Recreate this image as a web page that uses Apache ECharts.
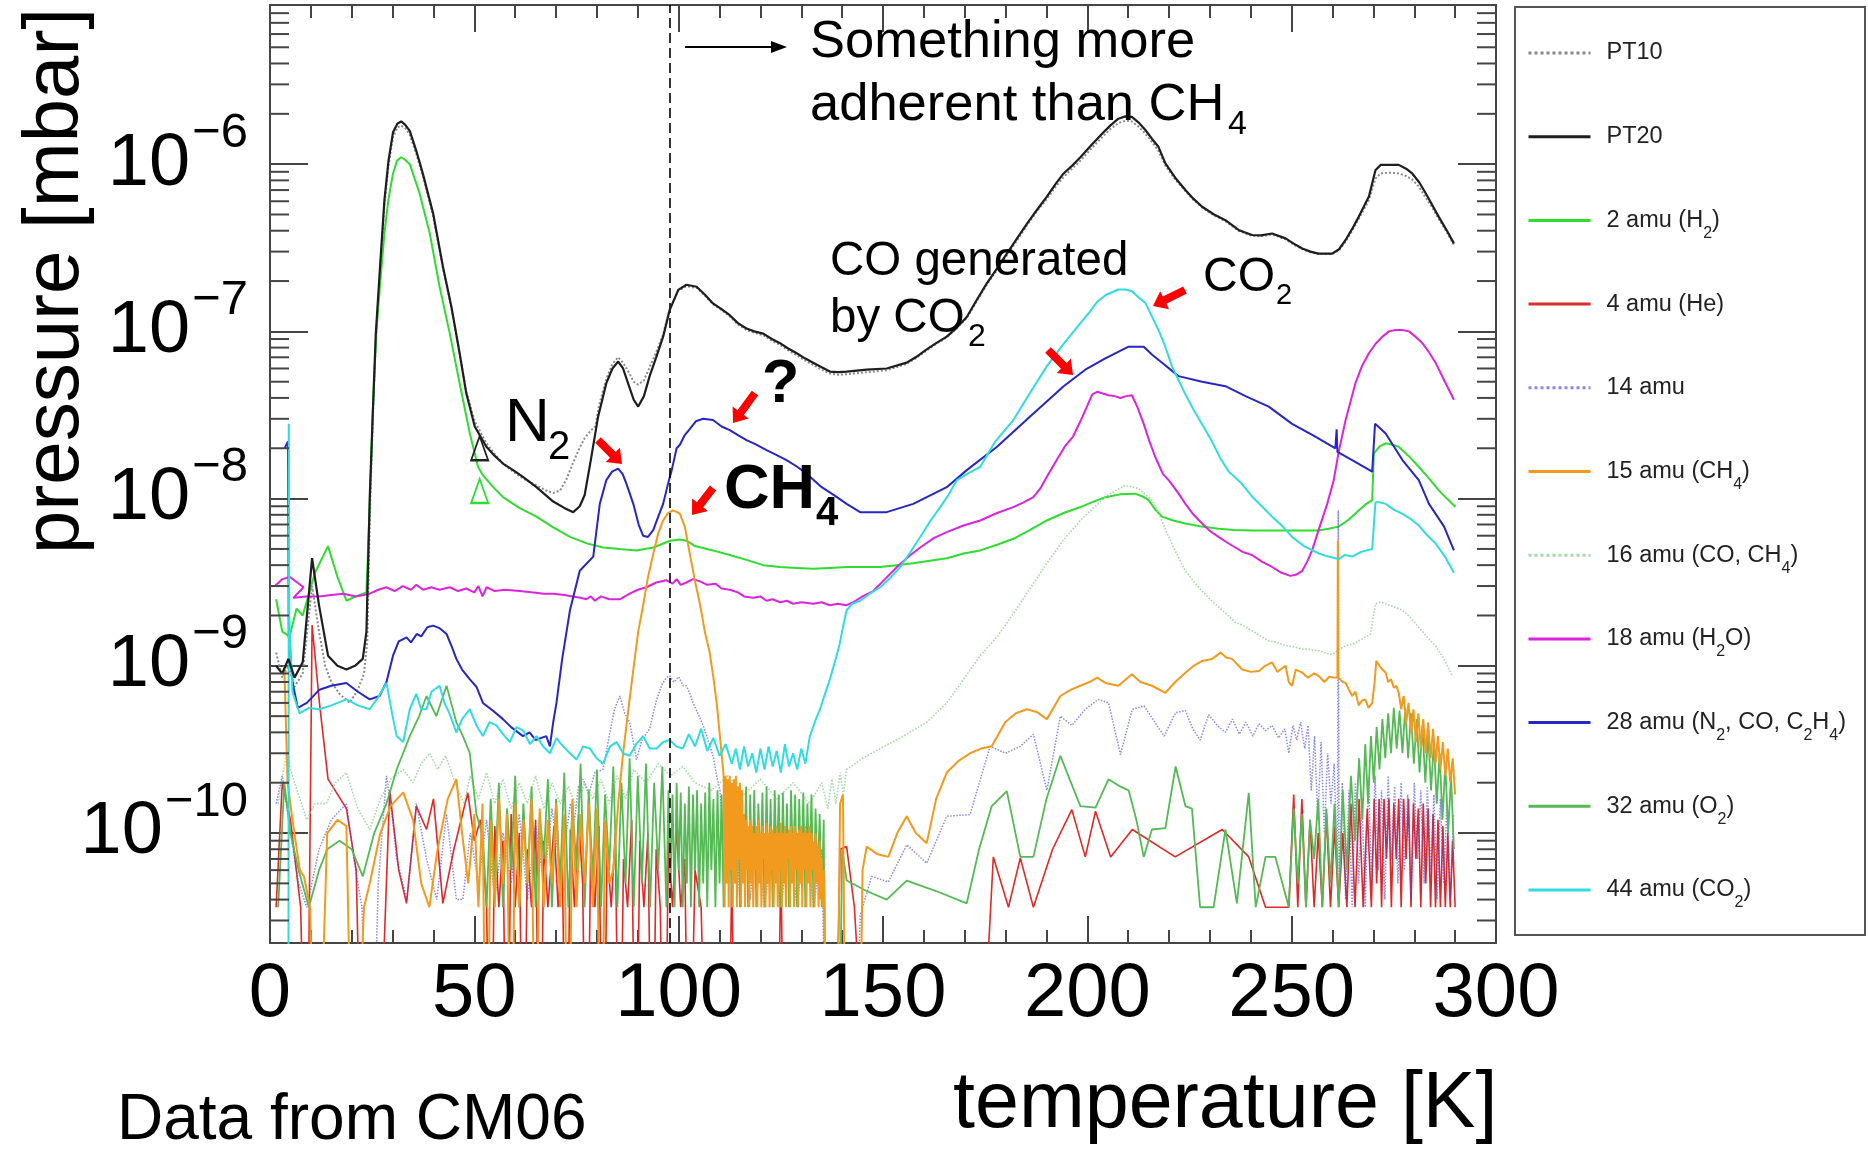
<!DOCTYPE html>
<html>
<head>
<meta charset="utf-8">
<title>Residual gas pressure vs temperature (CM06)</title>
<script src="https://cdn.jsdelivr.net/npm/echarts@6.0.0/dist/echarts.min.js"></script>
<style>
  html, body { margin: 0; padding: 0; background: #fff; }
  #chart { width: 1868px; height: 1151px; }
</style>
</head>
<body>
<div id="chart"></div>
<script>
// ---------------------------------------------------------------------------
// Data: [temperature K, pressure mbar]. 1e-12 marks readings below the scale.
// ---------------------------------------------------------------------------
const pt10 = [[1.5,1.2e-9],[3,8.5e-10],[4.5,1.0e-9],[6,7.5e-10],[8,9e-10],[10.3,3.0e-9],[12,1.6e-9],[13.5,1.0e-9],[15,8e-10],[17,6.8e-10],[19.5,6.0e-10],[21.5,7.2e-10],[23,9e-10],[23.8,1.4e-9],[24.5,9e-9],[25.2,3.2e-8],[25.9,9e-8],[27,2.4e-7],[28,5.7e-7],[29,9.8e-7],[30.1,1.45e-6],[31.2,1.66e-6],[32.1,1.7e-6],[33.1,1.64e-6],[34.2,1.5e-6],[35.8,1.15e-6],[37.4,8.5e-7],[39.9,4.9e-7],[42.3,2.4e-7],[44.4,1.38e-7],[46.4,7.4e-8],[48,4.4e-8],[50.1,2.9e-8],[52.9,2.15e-8],[55,1.85e-8],[57,1.62e-8],[59.5,1.45e-8],[61.9,1.32e-8],[65.2,1.2e-8],[67.5,1.12e-8],[69.3,1.08e-8],[71,1.12e-8],[72.5,1.3e-8],[74,1.6e-8],[75.5,1.95e-8],[77,2.3e-8],[78.5,2.55e-8],[79.6,2.7e-8],[80.5,3.6e-8],[82.3,5.2e-8],[83.8,6.4e-8],[85.2,7.0e-8],[86.4,6.5e-8],[87.6,5.8e-8],[89,5.0e-8],[90.1,4.8e-8],[91.5,5.1e-8],[92.9,6.1e-8],[94.5,7.5e-8],[96.2,9.6e-8],[97.8,1.36e-7],[99.9,1.75e-7],[101.9,1.86e-7],[104.4,1.82e-7],[106.5,1.63e-7],[108.4,1.45e-7],[110.5,1.34e-7],[112.5,1.23e-7],[114.5,1.1e-7],[116.6,1.02e-7],[118.5,9.8e-8],[120.7,9.5e-8],[122.8,8.8e-8],[124.8,8.3e-8],[126.8,7.7e-8],[128.9,7.2e-8],[130.9,6.7e-8],[132.9,6.3e-8],[135,5.9e-8],[137,5.6e-8],[139,5.5e-8],[141.1,5.55e-8],[146,5.7e-8],[150.9,5.85e-8],[155.8,6.4e-8],[158,6.9e-8],[160.7,7.7e-8],[163,8.4e-8],[165.6,9.2e-8],[168,1.04e-7],[170.5,1.2e-7],[173,1.52e-7],[175.4,1.9e-7],[178,2.35e-7],[180.3,2.85e-7],[182.8,3.5e-7],[185.2,4.3e-7],[187.6,5.2e-7],[190.1,6.2e-7],[192.2,7.3e-7],[194.2,8.4e-7],[196.3,9.4e-7],[198.3,1.05e-6],[201,1.24e-6],[203.6,1.45e-6],[205.6,1.62e-6],[207.6,1.76e-6],[209.3,1.82e-6],[210.9,1.8e-6],[212.5,1.68e-6],[214.2,1.52e-6],[215.8,1.36e-6],[217.4,1.2e-6],[219.1,9.8e-7],[221.5,8.1e-7],[224,6.9e-7],[226,6.1e-7],[228.1,5.5e-7],[231,4.95e-7],[233.8,4.55e-7],[237,4.0e-7],[240.3,3.72e-7],[242.5,3.7e-7],[245.2,3.8e-7],[248.5,3.55e-7],[250.5,3.3e-7],[252.6,3.1e-7],[254.6,2.97e-7],[256.6,2.9e-7],[259.9,2.9e-7],[261.6,3.05e-7],[263.2,3.45e-7],[264.8,4.0e-7],[266.4,4.7e-7],[268.9,6.1e-7],[270.5,8.2e-7],[271.8,8.8e-7],[274,8.9e-7],[276.2,8.8e-7],[278,8.5e-7],[279.5,8.1e-7],[281.2,7.3e-7],[282.8,6.3e-7],[284.4,5.5e-7],[286,4.7e-7],[288,3.9e-7],[289.7,3.3e-7]];

const pt20 = [[1.5,1.0e-9],[3,9e-10],[4.5,1.1e-9],[6,8.5e-10],[8,1.05e-9],[10.3,4.4e-9],[12,2.3e-9],[14.2,1.15e-9],[16.5,1.0e-9],[18.7,9.5e-10],[20.8,1.0e-9],[22.7,1.1e-9],[23.6,1.6e-9],[24.4,1.0e-8],[25.2,3.5e-8],[25.9,9.8e-8],[27,2.6e-7],[28,6.1e-7],[29,1.05e-6],[30.1,1.55e-6],[31.2,1.75e-6],[32.1,1.8e-6],[33.1,1.72e-6],[34.2,1.58e-6],[35.8,1.2e-6],[37.4,8.8e-7],[39.9,5.1e-7],[42.3,2.45e-7],[44.4,1.4e-7],[46.4,7.4e-8],[48,4.3e-8],[50.1,2.7e-8],[52.9,2.05e-8],[55,1.8e-8],[57,1.62e-8],[59.5,1.48e-8],[61.9,1.35e-8],[65.2,1.17e-8],[69.3,9.6e-9],[72,8.8e-9],[74.2,8.3e-9],[75.8,9e-9],[77,1.05e-8],[78.5,1.7e-8],[80.3,3.1e-8],[82.3,4.9e-8],[83.8,6.0e-8],[85.2,6.6e-8],[86.4,6.0e-8],[87.6,4.9e-8],[89,3.9e-8],[90.1,3.55e-8],[91.5,4.1e-8],[92.9,5.4e-8],[94.5,7.0e-8],[96.2,9.3e-8],[97.8,1.34e-7],[99.9,1.77e-7],[101.9,1.9e-7],[104.4,1.85e-7],[106.5,1.65e-7],[108.4,1.47e-7],[110.5,1.36e-7],[112.5,1.25e-7],[114.5,1.12e-7],[116.6,1.04e-7],[118.5,1.0e-7],[120.7,9.7e-8],[122.8,9.0e-8],[124.8,8.5e-8],[126.8,7.9e-8],[128.9,7.4e-8],[130.9,6.9e-8],[132.9,6.5e-8],[135,6.1e-8],[137,5.75e-8],[139,5.7e-8],[141.1,5.75e-8],[146,5.9e-8],[150.9,6.0e-8],[155.8,6.5e-8],[158,7.0e-8],[160.7,7.8e-8],[163,8.5e-8],[165.6,9.3e-8],[168,1.05e-7],[170.5,1.22e-7],[173,1.55e-7],[175.4,1.94e-7],[178,2.4e-7],[180.3,2.92e-7],[182.8,3.6e-7],[185.2,4.4e-7],[187.6,5.3e-7],[190.1,6.4e-7],[192.2,7.6e-7],[194.2,8.8e-7],[196.3,9.8e-7],[198.3,1.1e-6],[201,1.3e-6],[203.6,1.52e-6],[205.6,1.7e-6],[207.6,1.87e-6],[209.3,1.93e-6],[210.9,1.92e-6],[212.5,1.78e-6],[214.2,1.6e-6],[215.8,1.42e-6],[217.4,1.27e-6],[219.1,1.01e-6],[221.5,8.3e-7],[224,7.0e-7],[226,6.2e-7],[228.1,5.56e-7],[231,5.0e-7],[233.8,4.62e-7],[237,4.04e-7],[240.3,3.77e-7],[242.5,3.75e-7],[245.2,3.85e-7],[248.5,3.6e-7],[250.5,3.35e-7],[252.6,3.13e-7],[254.6,3.0e-7],[256.6,2.92e-7],[259.9,2.92e-7],[261.6,3.1e-7],[263.2,3.52e-7],[264.8,4.1e-7],[266.4,4.84e-7],[268.9,6.4e-7],[270.5,9.2e-7],[271.8,9.9e-7],[274,9.9e-7],[276.2,9.9e-7],[278,9.4e-7],[279.5,8.8e-7],[281.2,7.8e-7],[282.8,6.7e-7],[284.4,5.7e-7],[286,4.84e-7],[288,4.0e-7],[289.7,3.36e-7]];

const amu2 = [[1.5,2.5e-9],[3,1.6e-9],[4.8,1.5e-9],[6.5,2.2e-9],[8,2.0e-9],[11,3.6e-9],[14.2,5.2e-9],[16.5,3.4e-9],[18.7,2.45e-9],[21,2.6e-9],[23.6,2.75e-9],[24.4,9e-9],[25.2,3.5e-8],[26,9.8e-8],[27,2.0e-7],[28,3.85e-7],[29,6.2e-7],[30.1,8.8e-7],[31.1,1.05e-6],[32.1,1.1e-6],[33.1,1.06e-6],[34.2,1.0e-6],[36.6,6.7e-7],[39.1,3.85e-7],[41.5,1.85e-7],[44,9.7e-8],[46.4,4.9e-8],[48.9,2.45e-8],[50.9,1.55e-8],[52.1,1.38e-8],[54.5,1.18e-8],[57,1.02e-8],[61,8.8e-9],[65.2,7.8e-9],[69,6.8e-9],[73.4,5.9e-9],[77.5,5.4e-9],[81.5,5.1e-9],[85.5,5.0e-9],[89.7,4.9e-9],[93.8,5.1e-9],[97.9,5.6e-9],[100.3,5.7e-9],[101.9,5.6e-9],[104,5.2e-9],[108.4,4.9e-9],[112.5,4.6e-9],[116.6,4.3e-9],[120.7,4.0e-9],[124.8,3.9e-9],[128.9,3.85e-9],[132.9,3.8e-9],[137,3.85e-9],[141.1,3.9e-9],[145,3.9e-9],[149.3,3.9e-9],[153.4,4.0e-9],[157.4,4.1e-9],[161.5,4.25e-9],[165.6,4.4e-9],[169.7,4.7e-9],[173.8,4.9e-9],[177.9,5.3e-9],[181.9,5.75e-9],[186,6.5e-9],[190.1,7.4e-9],[194.2,8.2e-9],[198.3,8.9e-9],[201.5,9.6e-9],[204.4,1.02e-8],[208,1.06e-8],[211.7,1.07e-8],[213.5,1.03e-8],[215,9.8e-9],[216.6,8.6e-9],[218.3,7.8e-9],[221,7.4e-9],[224,7.1e-9],[228,6.8e-9],[232.1,6.6e-9],[236,6.5e-9],[240.3,6.45e-9],[244.4,6.45e-9],[248.5,6.45e-9],[252.6,6.45e-9],[256.6,6.45e-9],[259,6.6e-9],[261.5,6.8e-9],[264,7.5e-9],[266.4,8.5e-9],[268,9.2e-9],[269.7,9.8e-9],[270.1,1.86e-8],[271.5,2.05e-8],[273,2.14e-8],[274.6,2.1e-8],[276.2,2.04e-8],[278.6,1.8e-8],[281.1,1.55e-8],[283.6,1.32e-8],[286,1.12e-8],[288,1.0e-8],[290.1,8.9e-9]];

const amu4 = [[1.5,3.6e-11],[3,2e-10],[5,1.2e-10],[7.5,3.6e-11],[9,1e-12],[10.3,1.75e-9],[12.1,6e-10],[14.2,2.1e-10],[18.7,1.4e-10],[21.1,6e-11],[22.7,1e-12],[26,1e-12],[29.3,1.8e-10],[31.5,6e-11],[33.4,3.8e-11],[35.8,1.45e-10],[38.3,1.05e-10],[40,1.6e-10],[42.3,3.8e-11],[45,8e-11],[48.4,1.74e-10],[50,9e-11],[51.5,1.2e-10],[53,3.6e-11],[54,1e-12],[55,1.1e-10],[56,3.6e-11],[57,9e-11],[58,1e-12],[59,1.3e-10],[60,3.6e-11],[61,1.0e-10],[62,1e-12],[63,8e-11],[64,3.6e-11],[65,1.2e-10],[66,1e-12],[67,9e-11],[68,3.6e-11],[69.5,1.1e-10],[70.5,3.6e-11],[71.5,8e-11],[72.5,1e-12],[73.5,1.05e-10],[74.5,3.6e-11],[75.5,1.3e-10],[76.5,5e-11],[77.5,1e-12],[78.5,9e-11],[79.5,3.6e-11],[80.5,1.1e-10],[81.5,1e-12],[82.5,8e-11],[83.5,3.6e-11],[84.5,1.0e-10],[85.5,1e-12],[86.5,7e-11],[87.5,3.6e-11],[88.5,1.2e-10],[89.5,1e-12],[90.5,9e-11],[91.5,3.6e-11],[92.5,1.0e-10],[93.5,1e-12],[94.5,8e-11],[95.5,3.6e-11],[96.5,1e-12],[97.5,9e-11],[98.5,3.6e-11],[99.5,1.1e-10],[100.5,3.6e-11],[101.5,7e-11],[102.5,1e-12],[104,6e-11],[105.5,3.6e-11],[107,1e-12],[112,1e-12],[113,6e-11],[114,1e-12],[124,1e-12],[125,7e-11],[126,1e-12],[138,1e-12],[139.5,8e-11],[141.1,8.3e-11],[143,3.6e-11],[146.8,1e-12],[173,1e-12],[177,7.2e-11],[180.7,3.6e-11],[183.6,7.1e-11],[186.8,3.6e-11],[191.5,8e-11],[196.2,1.38e-10],[199.5,7.2e-11],[202,1.35e-10],[205.7,7.2e-11],[211,1.05e-10],[221.5,7.2e-11],[233,1.05e-10],[239.5,7.2e-11],[243.6,3.6e-11],[249.3,3.6e-11],[250.5,1.7e-10],[251.5,3.6e-11],[252.5,1.6e-10],[253.5,3.6e-11],[254.5,1.2e-10],[255.5,3.6e-11],[256.5,1.0e-10],[257.5,3.6e-11],[258.5,1.3e-10],[259.5,3.6e-11],[260.5,1.1e-10],[261.5,3.6e-11],[262.5,1.0e-10],[263.5,3.6e-11],[264.5,1.5e-10],[265.5,3.6e-11],[266.5,1.6e-10],[267.5,3.6e-11],[268.5,1.4e-10],[269.5,3.6e-11],[270.2,1.6e-10],[270.8,5e-11],[271.4,1.6e-10],[272,3.6e-11],[272.6,1.6e-10],[273.2,7e-11],[273.8,1.6e-10],[274.4,3.6e-11],[275,1.5e-10],[275.6,7e-11],[276.2,1.6e-10],[276.8,3.6e-11],[277.4,1.6e-10],[278,7e-11],[278.6,1.6e-10],[279.2,3.6e-11],[279.8,1.5e-10],[280.4,7e-11],[281,1.4e-10],[281.6,3.6e-11],[282.2,1.5e-10],[282.8,5e-11],[283.4,1.4e-10],[284,3.6e-11],[284.6,1.3e-10],[285.2,3.6e-11],[285.8,1.2e-10],[286.4,3.6e-11],[287,1.1e-10],[287.6,3.6e-11],[288.2,1.0e-10],[288.8,3.6e-11],[289.4,9e-11],[290,3.6e-11]];

const amu14 = [[1.5,1.5e-10],[3,2.2e-10],[5,1.0e-10],[7,5e-11],[9,3.6e-11],[12,8e-11],[15,1.2e-10],[18.7,1.5e-10],[20.5,7e-11],[22.5,3.6e-11],[24.5,1e-12],[26.5,5e-11],[28.5,2.2e-10],[30,1.2e-10],[31,7e-11],[33.5,4.0e-11],[35.8,1.5e-10],[38.3,7e-11],[40.8,4e-11],[43.2,1.3e-10],[45.6,4e-11],[47.2,4e-11],[49,1.0e-10],[51,5e-11],[53,1.2e-10],[55,4e-11],[57,1.0e-10],[59,5e-11],[61,1.3e-10],[63,4e-11],[65,1.1e-10],[67,5e-11],[69,1.4e-10],[71,6e-11],[72.5,1.0e-10],[73.5,1.5e-10],[74.5,1.2e-10],[75.5,1.9e-10],[76.6,2.1e-10],[78,1.7e-10],[79.5,2.3e-10],[81.5,2.4e-10],[83,3.8e-10],[84.3,5.5e-10],[85.6,6.6e-10],[86.8,5.2e-10],[88,4.6e-10],[89,3.4e-10],[89.7,2.75e-10],[91,3.6e-10],[92.9,4.2e-10],[94.6,6.3e-10],[96,7.8e-10],[97,8.5e-10],[97.8,8.7e-10],[98.8,8.0e-10],[100,8.6e-10],[101.1,7.6e-10],[101.9,7.6e-10],[102.8,6.8e-10],[103.5,6.0e-10],[104.7,5.2e-10],[106,4.4e-10],[107.2,3.6e-10],[108.4,2.9e-10],[109.3,2.2e-10],[110.1,1.8e-10],[111,9e-11],[112,1.9e-10],[113,5e-11],[114,1.6e-10],[115,3.6e-11],[116,1.3e-10],[117.5,4e-11],[119,1.1e-10],[121,3.6e-11],[123,1e-10],[125,3.6e-11],[127,9e-11],[129,3.6e-11],[131,1.1e-10],[133,3.6e-11],[135,8e-11],[136.5,1e-12],[143,1e-12],[144.4,3.2e-11],[147.2,5.5e-11],[151.3,5.1e-11],[155.8,8.5e-11],[160.7,6.6e-11],[165.6,1.26e-10],[171.3,1.29e-10],[176.2,3.3e-10],[180,3.0e-10],[183.6,3.3e-10],[186.8,3.9e-10],[190.1,1.8e-10],[193.4,5.0e-10],[196.2,4.4e-10],[199.5,5.5e-10],[202.7,6.3e-10],[205.2,6.0e-10],[208.1,2.95e-10],[211,5.5e-10],[213.9,5.75e-10],[216.5,4.6e-10],[218.8,3.8e-10],[221.6,5.25e-10],[224,5.4e-10],[225.8,4.2e-10],[227.6,3.6e-10],[229.7,5.1e-10],[231.8,4.4e-10],[233.8,4.0e-10],[235.5,4.8e-10],[237.2,3.9e-10],[238.8,4.6e-10],[240.5,3.8e-10],[242,4.5e-10],[243.6,4.1e-10],[245.2,4.4e-10],[246.8,3.7e-10],[248.3,4.2e-10],[249.3,3.0e-10],[250.3,4.4e-10],[251.2,3.6e-10],[252.2,4.6e-10],[253.2,3.2e-10],[254,4.4e-10],[254.8,1.8e-10],[255.6,3.8e-10],[256.4,1.2e-10],[257.2,3.5e-10],[258,1.0e-10],[258.8,3.0e-10],[259.6,1.5e-10],[260.4,2.6e-10],[261.2,6e-11],[261.4,8.5e-9],[261.6,5e-11],[262.4,2.0e-10],[263.2,4e-11],[264,1.8e-10],[264.8,3.6e-11],[265.6,2.0e-10],[266.4,5e-11],[267.2,1.6e-10],[268,3.6e-11],[268.8,2.1e-10],[269.6,5e-11],[270.4,2.2e-10],[271.2,6e-11],[272,1.8e-10],[272.8,4e-11],[273.6,2.2e-10],[274.4,7e-11],[275.2,1.9e-10],[276,5e-11],[276.8,2.0e-10],[277.6,6e-11],[278.4,1.7e-10],[279.2,4e-11],[280,2.0e-10],[280.8,7e-11],[281.6,1.8e-10],[282.4,5e-11],[283.2,1.9e-10],[284,6e-11],[284.8,1.7e-10],[285.6,4e-11],[286.4,1.6e-10],[287.2,5e-11],[288,1.5e-10],[288.8,4e-11],[289.6,1.3e-10]];

const amu15 = [[3.5,1.0e-9],[4.3,2.0e-10],[5.5,1.2e-10],[7.3,6e-11],[8.3,5.5e-11],[9.8,3.6e-11],[11.5,1e-12],[14,1.0e-10],[16.5,1.2e-10],[18.7,1.1e-10],[20.4,1e-12],[23,3.6e-11],[24.4,5e-11],[27,1.0e-10],[29.5,1.45e-10],[32.6,1.75e-10],[35,1.2e-10],[37,5e-11],[39,3.6e-11],[41,8e-11],[43.5,1.6e-10],[45.6,2.1e-10],[47,1.0e-10],[48.5,5e-11],[50,1.3e-10],[51,3.6e-11],[52,1.5e-10],[53,1e-12],[54,1.2e-10],[55,3.6e-11],[56,1.6e-10],[57,5e-11],[58,1.3e-10],[59,1e-12],[60,1.5e-10],[61,3.6e-11],[62,1.2e-10],[63,5e-11],[64,1.6e-10],[65,1e-12],[66,1.4e-10],[67,3.6e-11],[68,1.2e-10],[69,5e-11],[70,1.5e-10],[71,3.6e-11],[72,1.3e-10],[73,1e-12],[74,1.6e-10],[75,3.6e-11],[76,1.3e-10],[77,5e-11],[78,1.5e-10],[79,3.6e-11],[80,1.4e-10],[81,1e-12],[82,1.2e-10],[83,5e-11],[84,6e-11],[85.3,1.6e-10],[86.4,3.0e-10],[87.7,5.5e-10],[88.9,9.5e-10],[90.1,1.6e-9],[91.3,2.3e-9],[92.5,3.4e-9],[93.8,4.7e-9],[95,6.2e-9],[96.2,7.4e-9],[97.4,8.2e-9],[98.6,8.5e-9],[99.6,8.3e-9],[100.3,8.1e-9],[101.5,6.8e-9],[102.7,4.7e-9],[104,3.2e-9],[105.2,2.35e-9],[106.4,1.6e-9],[107.6,1.2e-9],[108.5,8.5e-10],[109.3,6.0e-10],[110.5,3.0e-10],[111,2.2e-10],
  [111.25,3.6e-11],[111.5,2.2e-10],[111.75,5e-11],[112,2.1e-10],[112.25,3.6e-11],[112.5,2.2e-10],[112.75,6e-11],[113,2.0e-10],[113.25,3.6e-11],[113.5,2.1e-10],[113.75,5e-11],[114,2.2e-10],[114.25,3.6e-11],[114.5,1.9e-10],[114.75,7e-11],[115,2.0e-10],[115.25,3.6e-11],[115.5,1.8e-10],[115.75,5e-11],[116,1.3e-10],[116.25,3.6e-11],[116.5,1.2e-10],[116.75,6e-11],[117,1.1e-10],[117.25,3.6e-11],[117.5,1.2e-10],[117.75,5e-11],[118,1.1e-10],[118.25,3.6e-11],[118.5,1.0e-10],[118.75,6e-11],[119,1.1e-10],[119.25,3.6e-11],[119.5,1.2e-10],[119.75,5e-11],[120,1.0e-10],[120.25,3.6e-11],[120.5,1.1e-10],[120.75,7e-11],[121,1.0e-10],[121.25,3.6e-11],[121.5,1.15e-10],[121.75,5e-11],[122,1.0e-10],[122.25,3.6e-11],[122.5,1.1e-10],[122.75,6e-11],[123,1.05e-10],[123.25,3.6e-11],[123.5,1.0e-10],[123.75,5e-11],[124,1.1e-10],[124.25,3.6e-11],[124.5,1.0e-10],[124.75,6e-11],[125,1.15e-10],[125.25,3.6e-11],[125.5,1.0e-10],[125.75,5e-11],[126,1.1e-10],[126.25,3.6e-11],[126.5,1.0e-10],[126.75,7e-11],[127,1.05e-10],[127.25,3.6e-11],[127.5,1.1e-10],[127.75,5e-11],[128,1.0e-10],[128.25,3.6e-11],[128.5,1.1e-10],[128.75,6e-11],[129,1.0e-10],[129.25,3.6e-11],[129.5,1.05e-10],[129.75,5e-11],[130,1.1e-10],[130.25,3.6e-11],[130.5,1.0e-10],[130.75,6e-11],[131,1.05e-10],[131.25,3.6e-11],[131.5,1.0e-10],[131.75,5e-11],[132,1.1e-10],[132.25,3.6e-11],[132.5,1.0e-10],[132.75,6e-11],[133,9e-11],[133.25,3.6e-11],[133.5,1.0e-10],[133.75,5e-11],[134,8e-11],[134.25,3.6e-11],[134.5,9e-11],[134.75,4e-11],[135,7e-11],[135.25,3.6e-11],[135.5,6e-11],[135.75,3.6e-11],[136,1e-12],
  [138.5,1e-12],[139.5,1.5e-10],[140.2,1.7e-10],[141,1e-12],[144,1e-12],[145,6e-11],[146,8.3e-11],[148.5,7.5e-11],[151.3,7.2e-11],[153.5,1.0e-10],[155.8,1.26e-10],[158,1.0e-10],[160.7,8.7e-11],[163,1.6e-10],[165.6,2.3e-10],[168.5,2.7e-10],[171.3,3.0e-10],[174,3.2e-10],[176.6,3.3e-10],[179.9,4.6e-10],[182.5,5.2e-10],[185.2,5.5e-10],[187.6,5.3e-10],[190.1,4.8e-10],[193.4,6.6e-10],[196,7.2e-10],[198.3,7.6e-10],[200.5,8.0e-10],[202.4,8.5e-10],[204.4,7.9e-10],[207.6,7.6e-10],[210.9,8.9e-10],[213,8.0e-10],[215.8,7.6e-10],[219.1,6.9e-10],[221.5,8.0e-10],[224,9.1e-10],[226,1.0e-9],[228.1,1.07e-9],[230.5,1.1e-9],[232.6,1.2e-9],[234,1.12e-9],[235.4,1.1e-9],[237.9,9.5e-10],[240,9.2e-10],[242,9.3e-10],[243.5,1.0e-9],[245.2,1.05e-9],[246.5,9.2e-10],[248.5,1.0e-9],[249.3,8.0e-10],[250.1,7.6e-10],[251,9.5e-10],[252.6,9.1e-10],[254,8.5e-10],[255.5,9.0e-10],[256.6,8.7e-10],[258,8.0e-10],[259.2,8.6e-10],[260.5,8.5e-10],[261.2,8.5e-10],[261.3,5.6e-9],[261.4,8.5e-10],[262.5,8.0e-10],[263.2,7.9e-10],[264,7.2e-10],[264.8,6.6e-10],[265.6,7.0e-10],[266.4,5.8e-10],[267.2,6.2e-10],[268,6.3e-10],[268.8,5.6e-10],[269.7,6.0e-10],[270.3,8.0e-10],[270.7,1.07e-9],[271.5,1.0e-9],[272.2,9.5e-10],[273,9.1e-10],[273.6,8.0e-10],[274.3,8.3e-10],[275,7.4e-10],[275.6,7.6e-10],[276.2,6.9e-10],[276.8,5.5e-10],[277.4,6.6e-10],[278,4.5e-10],[278.6,6.0e-10],[279.2,4.0e-10],[279.8,5.5e-10],[280.4,3.5e-10],[281,5.2e-10],[281.6,3.2e-10],[282.2,4.8e-10],[282.8,3.0e-10],[283.4,4.6e-10],[284,2.8e-10],[284.6,4.2e-10],[285.2,2.6e-10],[285.8,3.8e-10],[286.4,2.4e-10],[287,3.5e-10],[287.6,2.2e-10],[288.2,3.2e-10],[288.8,2.0e-10],[289.4,2.8e-10],[290,1.7e-10]];

const amu16 = [[2,1.5e-10],[4,3e-10],[6,2e-10],[9,1.2e-10],[11,1.5e-10],[13.8,1.5e-10],[16,2.0e-10],[18.7,2.3e-10],[21.5,1.4e-10],[24.4,1.05e-10],[27,1.6e-10],[29.5,2.1e-10],[32.6,2.4e-10],[35,2.0e-10],[37,2.6e-10],[39.1,3.0e-10],[41,2.4e-10],[43,2.9e-10],[45.6,1.9e-10],[47.5,1.5e-10],[49,2.2e-10],[51,1.6e-10],[53,2.3e-10],[55,1.5e-10],[57,2.1e-10],[59,1.4e-10],[61,2.0e-10],[63,1.5e-10],[65,2.2e-10],[67,1.4e-10],[69,2.0e-10],[71,1.5e-10],[73,1.9e-10],[75,1.4e-10],[77,2.0e-10],[79,1.6e-10],[81,2.1e-10],[83,1.5e-10],[85,2.2e-10],[87,1.6e-10],[89,2.4e-10],[92,2.0e-10],[95,2.6e-10],[98,2.2e-10],[101,2.5e-10],[104,2.0e-10],[108,1.8e-10],[112,2.2e-10],[116,1.7e-10],[120,2.1e-10],[124,1.6e-10],[128,2.0e-10],[132,1.5e-10],[135,2.0e-10],[136.5,1.4e-10],[137.5,2.1e-10],[138.5,1.5e-10],[139.5,2.3e-10],[140.3,1.7e-10],[141.1,2.4e-10],[145,2.8e-10],[149.3,3.2e-10],[155,3.8e-10],[160.7,4.6e-10],[165.6,6.0e-10],[170,8.5e-10],[173.8,1.15e-9],[178,1.5e-9],[181.9,2.05e-9],[186,2.9e-9],[190.1,4.1e-9],[194,5.6e-9],[198.3,7.4e-9],[201.5,8.8e-9],[205,1.05e-8],[209.3,1.2e-8],[212.5,1.15e-8],[215.8,9.8e-9],[218,7.6e-9],[219.9,5.9e-9],[222,4.6e-9],[224,3.7e-9],[226,3.2e-9],[228.1,2.8e-9],[230,2.5e-9],[232.1,2.25e-9],[234,2.05e-9],[236.2,1.82e-9],[238,1.75e-9],[240.3,1.62e-9],[242.5,1.5e-9],[244.4,1.41e-9],[246.5,1.38e-9],[248.5,1.32e-9],[250.5,1.3e-9],[252.6,1.26e-9],[254.5,1.25e-9],[256.6,1.23e-9],[258,1.2e-9],[259.9,1.17e-9],[261.5,1.25e-9],[263.2,1.32e-9],[265,1.35e-9],[267.3,1.45e-9],[269.3,1.55e-9],[270.5,2.35e-9],[271.8,2.4e-9],[273,2.35e-9],[275,2.25e-9],[277.1,2.15e-9],[279,1.95e-9],[281.1,1.7e-9],[283,1.5e-9],[285.2,1.32e-9],[287.3,1.1e-9],[289.3,8.7e-10]];

const amu18 = [[1.2,3.0e-9],[3,3.3e-9],[4.9,3.4e-9],[8.2,2.95e-9],[5.7,2.55e-9],[9,2.6e-9],[12.1,2.6e-9],[15,2.65e-9],[18,2.7e-9],[21,2.6e-9],[24.4,2.7e-9],[26.5,2.85e-9],[28.5,2.95e-9],[30.5,2.8e-9],[32.5,3.0e-9],[34.5,2.85e-9],[35.8,3.05e-9],[37.5,2.85e-9],[39.5,2.95e-9],[41.5,2.85e-9],[44,2.95e-9],[46,2.8e-9],[48,2.9e-9],[50,2.75e-9],[51,3.0e-9],[52,2.6e-9],[53,2.95e-9],[55,2.8e-9],[57.5,2.85e-9],[61.1,2.8e-9],[64,2.75e-9],[67,2.7e-9],[69.3,2.7e-9],[72,2.65e-9],[74,2.6e-9],[76,2.55e-9],[77.4,2.5e-9],[78.5,2.6e-9],[79.5,2.45e-9],[81,2.6e-9],[83,2.5e-9],[85.6,2.5e-9],[88,2.7e-9],[90,2.85e-9],[92.1,2.95e-9],[94.5,3.15e-9],[97,3.25e-9],[98.5,3.1e-9],[99.5,3.3e-9],[100.5,3.05e-9],[101.9,3.15e-9],[103.5,3.3e-9],[105.2,3.2e-9],[107,3.05e-9],[109,3.1e-9],[110.5,2.9e-9],[112.5,2.85e-9],[114.5,2.75e-9],[116,2.6e-9],[118.2,2.55e-9],[120,2.6e-9],[121.5,2.45e-9],[123,2.5e-9],[124.8,2.4e-9],[126.5,2.45e-9],[128,2.35e-9],[130,2.4e-9],[132.9,2.35e-9],[135,2.4e-9],[137,2.3e-9],[139,2.35e-9],[141,2.3e-9],[142.7,2.4e-9],[145,2.6e-9],[147.6,2.8e-9],[150.5,3.3e-9],[153.4,3.9e-9],[156.3,4.5e-9],[159.1,5.1e-9],[162.4,5.8e-9],[165.6,6.3e-9],[169.7,6.9e-9],[173.8,7.4e-9],[177.9,8.2e-9],[181.9,8.9e-9],[184.4,9.5e-9],[186.8,1.02e-8],[188.5,1.15e-8],[190.1,1.35e-8],[192.5,1.7e-8],[194.5,2.05e-8],[196.5,2.35e-8],[198.3,2.9e-8],[200,3.6e-8],[201.2,4.2e-8],[202.4,4.35e-8],[203.8,4.25e-8],[205.2,4.15e-8],[206.7,4.1e-8],[208.1,4.0e-8],[209.5,4.1e-8],[210.9,4.15e-8],[212.3,3.5e-8],[213.8,2.8e-8],[215.2,2.2e-8],[216.6,1.78e-8],[218.5,1.4e-8],[219.9,1.29e-8],[222,1.1e-8],[224,9.3e-9],[226,8.0e-9],[228.1,7.1e-9],[230,6.4e-9],[232.1,5.9e-9],[234,5.5e-9],[236.2,5.1e-9],[238,4.8e-9],[240.3,4.6e-9],[242.7,4.2e-9],[245.2,3.9e-9],[247.5,3.6e-9],[249.7,3.45e-9],[251,3.5e-9],[252.6,3.7e-9],[253.8,4.2e-9],[255,4.9e-9],[256.6,6.5e-9],[258.7,9.3e-9],[260.3,1.29e-8],[261.5,1.9e-8],[263.2,2.95e-8],[265.6,4.9e-8],[267.2,6.2e-8],[268.9,7.4e-8],[270.5,8.4e-8],[272.2,9.3e-8],[273.8,1.0e-7],[275.4,1.02e-7],[277,1.02e-7],[278.7,1.0e-7],[280.3,9.3e-8],[282,8.5e-8],[283.6,7.5e-8],[285.2,6.5e-8],[287.5,5.0e-8],[289.7,3.9e-8]];

const amu28 = [[3.6,2e-8],[4.4,2.2e-8],[4.6,1.5e-9],[5.5,8e-10],[6.8,5.6e-10],[9,6e-10],[12.1,7.2e-10],[15,7.6e-10],[18.7,7.9e-10],[21.5,7.0e-10],[24.4,6.3e-10],[26.8,6.6e-10],[28.5,8.0e-10],[30.1,1.15e-9],[31.5,1.4e-9],[33.4,1.48e-9],[34.5,1.38e-9],[35.9,1.55e-9],[37,1.5e-9],[38.5,1.7e-9],[39.9,1.74e-9],[41.5,1.68e-9],[43.2,1.55e-9],[44.5,1.3e-9],[45.6,1.1e-9],[47,9.5e-10],[48.9,8.3e-10],[50.5,7.5e-10],[52.1,6.0e-10],[54.5,5.4e-10],[57,4.8e-10],[59,4.3e-10],[61.9,3.8e-10],[63.5,4.0e-10],[65,3.6e-10],[67.6,3.8e-10],[68.5,3.3e-10],[69.3,4.6e-10],[70.1,6.0e-10],[71.5,1.1e-9],[73.4,2.15e-9],[75.8,3.7e-9],[79.1,4.5e-9],[80.7,9.3e-9],[82.3,1.29e-8],[83.7,1.45e-8],[85.2,1.51e-8],[86.3,1.4e-8],[87.2,1.23e-8],[88.9,9.3e-9],[90.2,7.0e-9],[91.3,6.0e-9],[92.5,5.9e-9],[93.8,6.5e-9],[95,7.8e-9],[96.2,9.3e-9],[97.3,1.2e-8],[98.3,1.48e-8],[99.5,2.0e-8],[100.3,2.1e-8],[101.5,2.4e-8],[102.7,2.6e-8],[104.2,2.9e-8],[106,3.0e-8],[108.4,2.95e-8],[110.5,2.7e-8],[112.5,2.57e-8],[114.5,2.4e-8],[116.6,2.24e-8],[119,2.1e-8],[121.5,1.95e-8],[124,1.82e-8],[126.4,1.7e-8],[129,1.55e-8],[131.3,1.41e-8],[135,1.17e-8],[138,1.05e-8],[141.1,9.3e-9],[144.4,8.3e-9],[150.9,8.3e-9],[157.4,9.3e-9],[165.6,1.17e-8],[170.5,1.48e-8],[177.9,2.04e-8],[186,3.1e-8],[194.2,4.7e-8],[199.5,5.9e-8],[204.4,6.9e-8],[210.1,8.1e-8],[213.8,8.1e-8],[216,7.2e-8],[218.3,6.5e-8],[222.3,5.4e-8],[228.1,5.0e-8],[233.8,4.7e-8],[238.7,4.1e-8],[244.4,3.55e-8],[250.1,2.8e-8],[255.8,2.35e-8],[260.7,2.0e-8],[261,2.6e-8],[261.2,1.9e-8],[264.8,1.7e-8],[269.7,1.45e-8],[270.4,2.8e-8],[271.5,2.65e-8],[273,2.45e-8],[277.1,1.7e-8],[281.1,1.29e-8],[283.6,9.3e-9],[287.3,6.8e-9],[289.7,4.9e-9]];

const amu32 = [[2,3.6e-11],[3.5,2.0e-10],[5,1.0e-10],[7,6e-11],[9.5,3.6e-11],[12,6e-11],[14,8e-11],[17,9e-11],[20,8e-11],[22.7,5.5e-11],[25.5,1.0e-10],[28.5,1.5e-10],[31,2.4e-10],[34.2,3.8e-10],[36.5,5.0e-10],[38.3,6.6e-10],[40.7,5.0e-10],[43.2,7.6e-10],[45.6,4.6e-10],[47.2,3.8e-10],[48.9,3.0e-10],[50.5,1.3e-10],[52.1,9.5e-11],[53,3.6e-11],[54,1.6e-10],[55,5e-11],[56,2.0e-10],[57,3.6e-11],[58,1.4e-10],[59,6e-11],[60,2.2e-10],[61,3.6e-11],[62,1.5e-10],[63,5e-11],[64,1.9e-10],[65,3.6e-11],[66,1.3e-10],[67,7e-11],[68,2.1e-10],[69,3.6e-11],[70,1.6e-10],[71,5e-11],[72,2.3e-10],[73,3.6e-11],[74,1.5e-10],[75,6e-11],[76,2.6e-10],[77,3.6e-11],[78,1.8e-10],[79,5e-11],[80,2.4e-10],[81,3.6e-11],[82,1.7e-10],[83,6e-11],[84,2.5e-10],[85,3.6e-11],[86,2.0e-10],[87,5e-11],[88,2.8e-10],[89,3.6e-11],[90,2.2e-10],[91,5e-11],[92,2.6e-10],[93,3.6e-11],[94,2.0e-10],[95,6e-11],[96,2.5e-10],
  [97,3.6e-11],[97.5,1.8e-10],[98,5e-11],[98.5,1.7e-10],[99,3.6e-11],[99.5,2.0e-10],[100,6e-11],[100.5,1.75e-10],[101,3.6e-11],[101.5,1.5e-10],[102,5e-11],[102.5,1.9e-10],[103,3.6e-11],[103.5,1.7e-10],[104,6e-11],[104.5,1.8e-10],[105,3.6e-11],[105.5,1.5e-10],[106,5e-11],[106.5,1.75e-10],[107,3.6e-11],[107.5,2.0e-10],[108,6e-11],[108.5,1.6e-10],[109,3.6e-11],[109.5,1.8e-10],[110,5e-11],[110.5,1.7e-10],[111,3.6e-11],[111.5,1.9e-10],[112,6e-11],[112.5,1.5e-10],[113,3.6e-11],[113.5,1.75e-10],[114,5e-11],[114.5,1.8e-10],[115,3.6e-11],[115.5,1.6e-10],[116,6e-11],[116.5,1.9e-10],[117,3.6e-11],[117.5,1.7e-10],[118,5e-11],[118.5,1.8e-10],[119,3.6e-11],[119.5,1.5e-10],[120,6e-11],[120.5,1.75e-10],[121,3.6e-11],[121.5,1.9e-10],[122,5e-11],[122.5,1.6e-10],[123,3.6e-11],[123.5,1.8e-10],[124,6e-11],[124.5,1.7e-10],[125,3.6e-11],[125.5,1.75e-10],[126,5e-11],[126.5,1.5e-10],[127,3.6e-11],[127.5,1.8e-10],[128,6e-11],[128.5,1.7e-10],[129,3.6e-11],[129.5,1.6e-10],[130,5e-11],[130.5,1.75e-10],[131,3.6e-11],[131.5,1.5e-10],[132,6e-11],[132.5,1.7e-10],[133,3.6e-11],[133.5,1.4e-10],[134,5e-11],[134.5,1.3e-10],[135,3.6e-11],[135.5,1.2e-10],[136,1e-12],
  [139,1e-12],[140,8e-11],[141.1,5.2e-11],[146,4.5e-11],[150.9,4.0e-11],[155.8,5.2e-11],[163,4.5e-11],[170.5,3.8e-11],[173.5,8e-11],[176.6,1.45e-10],[180.3,1.78e-10],[183.6,7.2e-11],[186.8,7.2e-11],[190,1.6e-10],[193.4,2.9e-10],[196,2.0e-10],[198.3,1.45e-10],[202,1.42e-10],[205.2,2.1e-10],[208,1.9e-10],[210.1,1.8e-10],[212,1.2e-10],[213.8,7.2e-11],[215.8,1.05e-10],[219.1,1.07e-10],[221.6,2.5e-10],[224,1.45e-10],[225.6,1.4e-10],[227.6,3.6e-11],[230.9,3.6e-11],[233.8,1.05e-10],[236.6,3.8e-11],[239.5,1.74e-10],[241.2,3.6e-11],[243.6,7.2e-11],[246,7.2e-11],[249.3,3.6e-11],[250.5,1.4e-10],[251.5,5e-11],[252.5,1.3e-10],[253.5,3.6e-11],[254.5,1.2e-10],[255.5,7e-11],[256.5,1.6e-10],[257.5,3.6e-11],[258.5,1.4e-10],[259.5,5e-11],[260.5,1.5e-10],[261.5,3.6e-11],[262.5,1.8e-10],[263.5,6e-11],[264.5,2.2e-10],[265.5,9e-11],[266.5,2.8e-10],[267.3,1.2e-10],[268,3.4e-10],[268.7,1.5e-10],[269.4,3.8e-10],[270.1,2.0e-10],[270.8,4.3e-10],[271.5,2.4e-10],[272.2,4.8e-10],[272.9,2.8e-10],[273.6,5.2e-10],[274.3,3.0e-10],[275,5.6e-10],[275.7,3.2e-10],[276.4,5.4e-10],[277.1,3.0e-10],[277.8,5.6e-10],[278.5,2.8e-10],[279.2,5.2e-10],[279.9,2.6e-10],[280.6,4.8e-10],[281.3,2.3e-10],[282,4.4e-10],[282.7,2.0e-10],[283.4,4.0e-10],[284.1,1.8e-10],[284.8,3.5e-10],[285.5,1.5e-10],[286.2,3.0e-10],[286.9,1.2e-10],[287.6,2.6e-10],[288.3,1.0e-10],[289,2.2e-10],[289.7,8e-11]];

const amu44 = [[4.5,1e-12],[4.6,2.8e-8],[4.7,2e-9],[5.5,7e-10],[7.2,5.2e-10],[9.5,5.6e-10],[12.1,5.5e-10],[15,5.8e-10],[18.7,6.3e-10],[21.5,5.8e-10],[24.4,5.5e-10],[26.5,6.5e-10],[28.5,7.9e-10],[30,5.0e-10],[31,3.8e-10],[32.6,3.5e-10],[34.2,5.5e-10],[35.8,6.8e-10],[37,5.5e-10],[38.3,5.5e-10],[39.5,7.0e-10],[41.5,7.6e-10],[42.7,6.0e-10],[43.9,5.2e-10],[45.6,4.0e-10],[47,4.8e-10],[48.9,5.5e-10],[50.5,4.4e-10],[52.1,3.8e-10],[53.7,4.6e-10],[55.4,4.4e-10],[57,3.9e-10],[58.7,3.5e-10],[60.3,4.3e-10],[62,4.1e-10],[63.6,3.4e-10],[65.2,3.8e-10],[66.8,3.3e-10],[68.5,3.0e-10],[70.1,3.7e-10],[71.7,3.3e-10],[73.4,3.0e-10],[75,2.75e-10],[76.6,3.3e-10],[78.3,3.2e-10],[79.9,2.8e-10],[81.5,2.6e-10],[83.2,3.3e-10],[84.8,3.5e-10],[86.4,3.0e-10],[88,2.9e-10],[89.6,3.4e-10],[91.3,3.8e-10],[92.9,3.2e-10],[94.6,3.2e-10],[96.2,3.5e-10],[97.8,3.6e-10],[99.4,3.3e-10],[101,3.2e-10],[102.5,3.9e-10],[104,3.3e-10],[105.5,4.2e-10],[107,3.1e-10],[108.5,3.7e-10],[110,2.9e-10],[111.5,3.4e-10],[113,2.6e-10],[114,3.2e-10],[115,2.4e-10],[116,3.3e-10],[117,2.5e-10],[118,3.0e-10],[119,2.3e-10],[120,3.2e-10],[121,2.4e-10],[122,3.3e-10],[123,2.5e-10],[124,3.1e-10],[125,2.3e-10],[126,3.4e-10],[127,2.5e-10],[128,3.0e-10],[129,2.4e-10],[130,3.2e-10],[131,2.6e-10],[132.1,3.8e-10],[133.3,4.6e-10],[134.6,5.5e-10],[135.8,6.8e-10],[137,8.3e-10],[138.2,1.05e-9],[139.4,1.35e-9],[140.3,1.75e-9],[141.1,2.15e-9],[142.5,2.35e-9],[144.4,2.45e-9],[146.8,2.7e-9],[149.3,2.95e-9],[151.5,3.3e-9],[154.2,3.9e-9],[156.5,4.7e-9],[159.1,5.9e-9],[161.5,7.3e-9],[164,8.9e-9],[166,1.05e-8],[168.1,1.29e-8],[170.5,1.4e-8],[173.8,1.55e-8],[177.5,2.2e-8],[181.9,2.95e-8],[186,4.3e-8],[190.1,6.2e-8],[194,8.3e-8],[198.3,1.12e-7],[200.5,1.3e-7],[202.4,1.5e-7],[204.5,1.65e-7],[207.6,1.78e-7],[209.3,1.78e-7],[210.9,1.74e-7],[212.5,1.6e-7],[214.2,1.48e-7],[216,1.2e-7],[217.4,1.02e-7],[219,8.2e-8],[220.7,6.2e-8],[222.5,5.0e-8],[224,4.2e-8],[226,3.4e-8],[228,2.8e-8],[230.5,2.2e-8],[232.5,1.75e-8],[234.6,1.45e-8],[237.5,1.25e-8],[240.3,1.03e-8],[242.7,9.0e-9],[245.2,7.8e-9],[247.6,6.9e-9],[250.1,5.9e-9],[253,5.2e-9],[256.6,4.7e-9],[259,4.5e-9],[261.5,4.35e-9],[263,4.6e-9],[264.8,4.5e-9],[267,4.8e-9],[269.7,5.0e-9],[270.5,9.5e-9],[271.5,9.5e-9],[273,9.3e-9],[275,8.6e-9],[277.1,8.1e-9],[279,7.6e-9],[281.1,6.9e-9],[283,6.1e-9],[285.2,5.4e-9],[287.5,4.5e-9],[289.7,3.6e-9]];

// Axis ranges and ticks
const tempTicks = [0, 50, 100, 150, 200, 250, 300];
const pressureMin = 2.2e-11;
const pressureMax = 8.95e-6;
const minorMantissas = [2, 3, 4, 5, 6, 7, 8, 9];
const minorDecades = [-11, -10, -9, -8, -7, -6];
const dashedTemp = 97.7;

// ---------------------------------------------------------------------------
const FONT = '"Liberation Sans", Arial, Helvetica, sans-serif';
const AXIS = '#454545';

const logMinorTicks = [];
minorDecades.forEach(d => minorMantissas.forEach(m => {
  const v = m * Math.pow(10, d);
  if (v > pressureMin && v < pressureMax) logMinorTicks.push([0, v]);
}));

const seriesDefs = [
  { name: 'PT10', data: pt10, color: '#8a8a8a', width: 2, type: 'dotted' },
  { name: 'PT20', data: pt20, color: '#1e1e1e', width: 2.2, type: 'solid', z: 5 },
  { name: '2 amu (H2)', data: amu2, color: '#2fdc2f', width: 2, type: 'solid' },
  { name: '4 amu (He)', data: amu4, color: '#e02828', width: 1.6, type: 'solid' },
  { name: '14 amu', data: amu14, color: '#4848e0', width: 1.5, type: 'dotted', opacity: 0.65 },
  { name: '15 amu (CH4)', data: amu15, color: '#f29a1e', width: 2, type: 'solid', z: 4 },
  { name: '16 amu (CO, CH4)', data: amu16, color: '#8fd08f', width: 1.6, type: 'dotted', opacity: 0.8 },
  { name: '18 amu (H2O)', data: amu18, color: '#dc24dc', width: 2, type: 'solid' },
  { name: '28 amu (N2, CO, C2H4)', data: amu28, color: '#2626c4', width: 2, type: 'solid', z: 4 },
  { name: '32 amu (O2)', data: amu32, color: '#55b955', width: 1.8, type: 'solid' },
  { name: '44 amu (CO2)', data: amu44, color: '#30dcdc', width: 2, type: 'solid', z: 4 }
];

const legendLabels = {
  'PT10': 'PT10',
  'PT20': 'PT20',
  '2 amu (H2)': '2 amu (H{sub|2})',
  '4 amu (He)': '4 amu (He)',
  '14 amu': '14 amu',
  '15 amu (CH4)': '15 amu (CH{sub|4})',
  '16 amu (CO, CH4)': '16 amu (CO, CH{sub|4})',
  '18 amu (H2O)': '18 amu (H{sub|2}O)',
  '28 amu (N2, CO, C2H4)': '28 amu (N{sub|2}, CO, C{sub|2}H{sub|4})',
  '32 amu (O2)': '32 amu (O{sub|2})',
  '44 amu (CO2)': '44 amu (CO{sub|2})'
};

const series = seriesDefs.map(s => ({
  name: s.name,
  type: 'line',
  data: s.data,
  xAxisIndex: 0,
  yAxisIndex: 0,
  symbol: 'none',
  showSymbol: false,
  clip: true,
  silent: true,
  lineStyle: { color: s.color, width: s.width, type: s.type, opacity: s.opacity == null ? 1 : s.opacity },
  itemStyle: { color: s.color },
  emphasis: { disabled: true },
  z: s.z || 3
}));

// dashed reference temperature
series[1].markLine = {
  silent: true,
  symbol: ['none', 'none'],
  label: { show: false },
  lineStyle: { color: '#000', width: 1.6, type: [10, 5] },
  data: [{ xAxis: dashedTemp }]
};
// open triangle markers
series[1].markPoint = {
  silent: true,
  label: { show: false },
  data: [{ coord: [51.3, 2.0e-8], symbol: 'triangle', symbolSize: [17, 24],
           itemStyle: { color: 'rgba(0,0,0,0)', borderColor: '#222', borderWidth: 2 } }]
};
series[2].markPoint = {
  silent: true,
  label: { show: false },
  data: [{ coord: [51.3, 1.11e-8], symbol: 'triangle', symbolSize: [17, 24],
           itemStyle: { color: 'rgba(0,0,0,0)', borderColor: '#2fdc2f', borderWidth: 2 } }]
};

// log-decade minor ticks on the left and right frame
series.push({
  type: 'custom',
  name: 'minor ticks',
  silent: true,
  clip: false,
  xAxisIndex: 0,
  yAxisIndex: 0,
  data: logMinorTicks,
  z: 6,
  renderItem: (params, api) => {
    const v = api.value(1);
    const l = api.coord([0, v]);
    const r = api.coord([300, v]);
    return {
      type: 'group',
      children: [
        { type: 'line', shape: { x1: l[0], y1: l[1], x2: l[0] + 19, y2: l[1] }, style: { stroke: AXIS, lineWidth: 2 } },
        { type: 'line', shape: { x1: r[0], y1: r[1], x2: r[0] - 19, y2: r[1] }, style: { stroke: AXIS, lineWidth: 2 } }
      ]
    };
  }
});

function arrowPolygon(x1, y1, x2, y2, shaft, headW, headL) {
  const dx = x2 - x1, dy = y2 - y1, len = Math.hypot(dx, dy);
  const ux = dx / len, uy = dy / len, nx = -uy, ny = ux;
  const bx = x2 - ux * headL, by = y2 - uy * headL;
  const s = shaft / 2, h = headW / 2;
  return [[x1 + nx * s, y1 + ny * s], [bx + nx * s, by + ny * s], [bx + nx * h, by + ny * h], [x2, y2],
          [bx - nx * h, by - ny * h], [bx - nx * s, by - ny * s], [x1 - nx * s, y1 - ny * s]];
}

function txt(text, x, y, size, extra) {
  return Object.assign({
    type: 'text', x: x, y: y, silent: true, z: 20,
    style: Object.assign({ text: text, fontSize: size, fontFamily: FONT, fill: '#000',
                           align: 'left', verticalAlign: 'middle' }, (extra && extra.style) || {})
  }, extra && extra.el ? extra.el : {});
}
const bold = { style: { fontWeight: 'bold' } };

const redArrows = [
  [598, 440, 622, 464],
  [713, 488, 692, 515],
  [755, 393, 733, 423],
  [1048, 350, 1073, 375],
  [1185, 290, 1153, 306]
];

const graphics = [
  // legend frame
  { type: 'rect', shape: { x: 1515, y: 7, width: 350, height: 928 }, silent: true,
    style: { fill: 'none', stroke: '#555', lineWidth: 2 } },
  // axis titles
  txt('pressure [mbar]', 56, 281, 78, { style: { align: 'center' }, el: { rotation: Math.PI / 2 } }),
  txt('temperature [K]', 953, 1105, 79),
  txt('Data from CM06', 117, 1121, 64),
  // annotations
  { type: 'line', shape: { x1: 685, y1: 47, x2: 774, y2: 47 }, silent: true, style: { stroke: '#000', lineWidth: 2 } },
  { type: 'polygon', shape: { points: [[771, 41], [787, 47], [771, 53]] }, silent: true, style: { fill: '#000' } },
  txt('Something more', 810, 43, 52.5),
  txt('adherent than CH', 810, 106, 52.5),
  txt('4', 1228, 125, 34),
  txt('CO generated', 830, 262, 47.5),
  txt('by CO', 830, 319, 47.5),
  txt('2', 968, 337, 32),
  txt('CO', 1203, 278, 48),
  txt('2', 1276, 296, 29),
  txt('N', 505, 424, 62),
  txt('2', 548, 448, 40),
  txt('?', 762, 385, 61, bold),
  txt('CH', 724, 491, 63, bold),
  txt('4', 816, 514, 40, bold)
].concat(redArrows.map(a => ({
  type: 'polygon', silent: true, z: 21,
  shape: { points: arrowPolygon(a[0], a[1], a[2], a[3], 8, 20, 13) },
  style: { fill: '#ff0000' }
})));

const xAxisBase = {
  type: 'value', min: 0, max: 300, interval: 50,
  axisLine: { show: true, onZero: false, lineStyle: { color: AXIS, width: 2 } },
  axisTick: { show: true, inside: true, length: 27, lineStyle: { color: AXIS, width: 2 } },
  minorTick: { show: true, splitNumber: 5, length: 13, lineStyle: { color: AXIS, width: 2 } },
  splitLine: { show: false },
  minorSplitLine: { show: false }
};
const yAxisBase = {
  type: 'log', logBase: 10, min: pressureMin, max: pressureMax,
  axisLine: { show: true, onZero: false, lineStyle: { color: AXIS, width: 2 } },
  axisTick: { show: true, inside: true, length: 38, lineStyle: { color: AXIS, width: 2 } },
  splitLine: { show: false }
};

const option = {
  animation: false,
  backgroundColor: '#fff',
  textStyle: { fontFamily: FONT },
  grid: { left: 270, right: 372, top: 5, bottom: 208, containLabel: false },
  xAxis: [
    Object.assign({}, xAxisBase, {
      position: 'bottom',
      axisLabel: { show: true, color: '#000', fontSize: 76, fontFamily: FONT, margin: 14,
                   formatter: v => (tempTicks.indexOf(v) >= 0 ? String(v) : '') }
    }),
    Object.assign({}, xAxisBase, { position: 'top', axisLabel: { show: false } })
  ],
  yAxis: [
    Object.assign({}, yAxisBase, {
      position: 'left',
      axisLabel: {
        show: true, margin: 22, showMinLabel: false, showMaxLabel: false,
        formatter: v => '{b|10}{s|\u2212' + Math.round(-Math.log10(v)) + '}',
        rich: {
          b: { fontSize: 74, fontFamily: FONT, color: '#000' },
          s: { fontSize: 49, fontFamily: FONT, color: '#000', padding: [0, 0, 62, 2] }
        }
      }
    }),
    Object.assign({}, yAxisBase, { position: 'right', axisLabel: { show: false } })
  ],
  legend: {
    orient: 'vertical',
    left: 1527,
    top: 31,
    padding: 0,
    itemGap: 39.7,
    itemWidth: 62,
    itemHeight: 14,
    selectedMode: false,
    data: seriesDefs.map(s => s.name),
    lineStyle: { width: 3 },
    itemStyle: { opacity: 0, color: 'rgba(0,0,0,0)', borderWidth: 0 },
    formatter: name => legendLabels[name],
    textStyle: {
      fontSize: 23.5, fontFamily: FONT, color: '#222', lineHeight: 44, padding: [0, 0, 0, 11],
      rich: { sub: { fontSize: 16, fontFamily: FONT, color: '#222', padding: [26, 0, 0, 0] } }
    }
  },
  graphic: graphics,
  series: series
};

const chart = echarts.init(document.getElementById('chart'), null, { renderer: 'canvas', width: 1868, height: 1151 });
chart.setOption(option);
</script>
</body>
</html>
